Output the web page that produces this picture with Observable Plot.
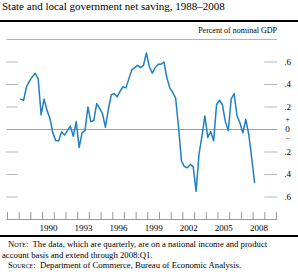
<!DOCTYPE html>
<html><head><meta charset="utf-8">
<script src="https://cdn.jsdelivr.net/npm/d3@7"></script>
<script src="https://cdn.jsdelivr.net/npm/@observablehq/plot@0.6"></script>
<style>
body{margin:0;width:298px;height:272px;position:relative;background:#fff;font-family:"Liberation Serif","Times New Roman",serif;color:#000;overflow:hidden}
.title{position:absolute;left:2px;top:0;font-size:11px;line-height:13px;white-space:nowrap}
.rule{position:absolute;left:0;width:298px;background:#000}
.unit{position:absolute;right:21px;top:25.5px;font-size:8px;line-height:10px;white-space:nowrap}
#chart{position:absolute;left:0;top:24px}
.note{position:absolute;font-size:8.7px;line-height:10px;white-space:nowrap}
.sc{font-variant:small-caps}
</style></head><body>
<div class="title">State and local government net saving, 1988–2008</div>
<div class="rule" style="top:20px;height:2px"></div>
<div class="unit">Percent of nominal GDP</div>
<div id="chart"></div>
<div class="rule" style="top:235px;height:2px"></div>
<div class="note" style="left:8px;top:239px"><span class="sc">Note</span>:&nbsp; The data, which are quarterly, are on a national income and product</div>
<div class="note" style="left:2px;top:249.5px">account basis and extend through 2008:Q1.</div>
<div class="note" style="left:8px;top:260px"><span class="sc">Source</span>:&nbsp; Department of Commerce, Bureau of Economic Analysis.</div>
<script>
// Quarterly data, 1988:Q1 through 2008:Q1
const startYear = 1988;
const netSaving = [
  0.27, 0.26, 0.38, 0.43,   // 1988
  0.47, 0.50, 0.45, 0.13,   // 1989
  0.27, 0.17, 0.10, -0.03,  // 1990
  -0.10, -0.10, -0.02, -0.05, // 1991
  -0.01, 0.03, -0.06, 0.07, // 1992
  -0.16, -0.03, -0.01, 0.20, // 1993
  0.07, 0.08, 0.23, 0.19,   // 1994
  0.14, 0.02, 0.18, 0.31,   // 1995
  0.32, 0.29, 0.34, 0.38,   // 1996
  0.37, 0.45, 0.53, 0.55,   // 1997
  0.57, 0.55, 0.57, 0.68,   // 1998
  0.56, 0.50, 0.55, 0.58,   // 1999
  0.58, 0.60, 0.46, 0.37,   // 2000
  0.33, 0.28, 0.02, -0.28,  // 2001
  -0.33, -0.34, -0.31, -0.33, // 2002
  -0.55, -0.22, -0.06, 0.12, // 2003
  -0.07, -0.02, -0.10, 0.22, // 2004
  0.26, 0.22, 0.07, -0.01,  // 2005
  0.27, 0.32, 0.12, 0.06,   // 2006
  -0.03, 0.09, -0.04, -0.25, // 2007
  -0.47                     // 2008
];
const tickYears = d3.range(1987, 2011);
const labelYears = [1990, 1993, 1996, 1999, 2002, 2005, 2008];
const gridValues = [0.6, 0.4, 0.2, -0.2, -0.4, -0.6];
const yTickValues = [0.6, 0.4, 0.2, 0, -0.2, -0.4, -0.6];
const yTickLabels = [".6", ".4", ".2", "0", ".2", ".4", ".6"];

const data = netSaving.map((v, i) => ({t: startYear + i / 4 + 0.125, v}));
const yLabelData = yTickValues.map((v, i) => ({v, label: yTickLabels[i]}));
const xDomain = [1987, 2010];
const yDomain = [-0.8, 0.8];
const grid = "#b5b5b5";

const chart = Plot.plot({
  width: 298,
  height: 210,
  marginTop: 15,
  marginBottom: 15,
  marginLeft: 7,
  marginRight: 22,
  style: {fontFamily: "Liberation Serif, Times New Roman, serif", fontSize: "9px", color: "#000", background: "transparent", overflow: "visible"},
  x: {domain: xDomain, axis: null},
  y: {domain: yDomain, axis: null},
  marks: [
    Plot.ruleY(gridValues, {x1: xDomain[0] - 0.05, x2: xDomain[0] + 0.9, stroke: grid, strokeWidth: 1}),
    Plot.ruleY(gridValues, {x1: xDomain[1] - 1.0, x2: xDomain[1] + 0.1, stroke: grid, strokeWidth: 1}),
    Plot.ruleY([0], {x1: xDomain[0] - 0.05, x2: xDomain[1] + 0.1, stroke: "#a0a0a0", strokeWidth: 1}),
    Plot.ruleY([yDomain[1]], {x1: xDomain[0] - 0.05, x2: xDomain[1] + 0.1, stroke: grid, strokeWidth: 1}),
    Plot.ruleY([yDomain[0]], {x1: xDomain[0] - 0.05, x2: xDomain[1] + 0.1, stroke: "#9a9a9a", strokeWidth: 1}),
    Plot.ruleX(tickYears, {y1: yDomain[0], y2: yDomain[0] + 0.062, stroke: "#9a9a9a", strokeWidth: 1}),
    Plot.line(data, {x: "t", y: "v", stroke: "#1f7fc3", strokeWidth: 1.5, curve: "linear"}),
    Plot.text(labelYears, {x: d => d + 0.5, y: yDomain[0], dy: 9, text: d => String(d), fontSize: 9, fill: "#000"}),
    Plot.text(yLabelData, {y: "v", text: "label", frameAnchor: "right", dx: 11, textAnchor: "middle", fontSize: 9, fill: "#000"}),
    Plot.text(["+"], {y: () => 0, text: d => d, frameAnchor: "right", dx: 11, dy: -10, textAnchor: "middle", fontSize: 7.5, fill: "#000"}),
    Plot.text(["−"], {y: () => 0, text: d => d, frameAnchor: "right", dx: 11, dy: 9, textAnchor: "middle", fontSize: 7.5, fill: "#000"})
  ]
});
document.getElementById("chart").appendChild(chart);
</script>
</body></html>
